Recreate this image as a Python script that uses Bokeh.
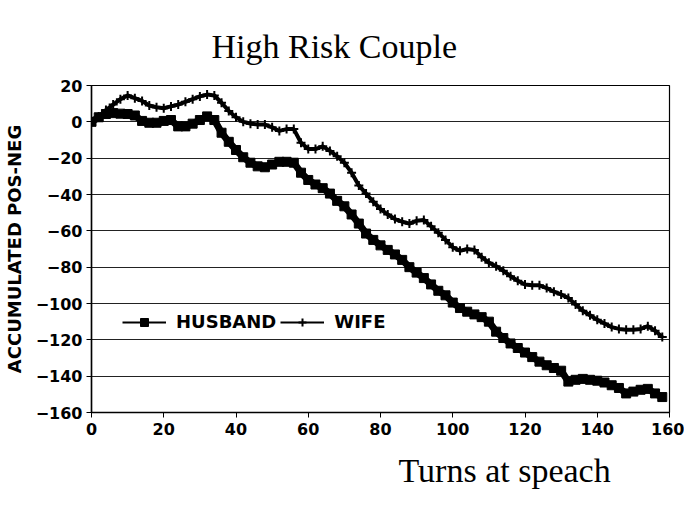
from bokeh.plotting import figure
from bokeh.models import (Range1d, FixedTicker, Legend, LegendItem, ColumnDataSource, Title)
from bokeh.embed import file_html
from bokeh.resources import INLINE

turns = list(range(0, 160, 2))

husband = [0, 2.5, 4.3, 4.8, 4.5, 4.3, 3.5, 0.5, -0.5, -0.5,
           0.5, 1, -2.5, -2.5, -1, 1, 3, 1, -6, -11,
           -15.5, -19.5, -22.5, -24.5, -25, -23.5, -22, -22, -22.5, -28,
           -32, -34.5, -36.5, -39.5, -43.5, -46.5, -51, -56, -61.5, -65,
           -68, -70.5, -73, -76, -80, -83, -86, -89.5, -93, -95.5,
           -99.5, -102.5, -104.5, -106, -107.5, -110, -115.5, -119, -122, -124.5,
           -127, -129.5, -132, -134, -135.5, -137, -143, -142, -141.5, -142,
           -142.5, -143.5, -145, -146.5, -149.5, -148.5, -147.5, -147, -149.5, -151.5]

wife = [0, 3, 6.5, 9.5, 12.5, 14.5, 13, 11.5, 9, 8,
        7.5, 8.5, 9.5, 11, 12.5, 14, 15, 14.5, 10.5, 6,
        2.5, 0, -1, -1.5, -1.5, -3, -5, -4, -4, -11.5,
        -15, -15, -13.5, -16, -19, -22.5, -28, -35, -39.5, -44,
        -48, -51, -53.5, -55, -56, -54.5, -54, -57.5, -61, -65,
        -69, -71, -70, -70.5, -74.5, -77.5, -79.5, -82, -85, -87.5,
        -89.5, -90, -90, -91.5, -93.5, -95, -97, -100.5, -104, -106.5,
        -109, -111, -113, -114, -114.5, -114.5, -114, -112.5, -115, -118.5]

x_ticks = [0, 20, 40, 60, 80, 100, 120, 140, 160]
y_ticks = [20, 0, -20, -40, -60, -80, -100, -120, -140, -160]

src = ColumnDataSource(dict(t=turns, h=husband, w=wife))

p = figure(width=684, height=505, output_backend="svg", toolbar_location=None,
           x_range=Range1d(0, 160), y_range=Range1d(-160, 20),
           min_border_left=84, min_border_right=15, min_border_top=85, min_border_bottom=93,
           background_fill_color="white", border_fill_color="white")

p.title.text = "High Risk Couple"
p.title.align = "left"
p.title.vertical_align = "top"
p.title.offset = 120
p.title.standoff = 38
p.title.text_font = "Liberation Serif"
p.title.text_font_style = "normal"
p.title.text_font_size = "34px"
p.title.text_color = "black"

bottom_title = Title(text="Turns at speach", align="left", offset=307, standoff=24,
                     text_font="Liberation Serif", text_font_style="normal",
                     text_font_size="34px", text_color="black")
p.add_layout(bottom_title, "below")

p.outline_line_color = "black"
p.outline_line_width = 1.2
p.xgrid.visible = False
p.ygrid.ticker = FixedTicker(ticks=y_ticks)
p.ygrid.grid_line_color = "#222222"
p.ygrid.grid_line_width = 1.2

for ax in (p.xaxis[0], p.yaxis[0]):
    ax.major_label_text_font = "DejaVu Sans"
    ax.major_label_text_font_style = "bold"
    ax.major_label_text_font_size = "16px"
    ax.major_label_text_color = "black"
    ax.axis_line_color = "black"
    ax.axis_line_width = 1.5
    ax.major_tick_line_color = "black"
    ax.major_tick_in = 0
    ax.major_tick_out = 5
    ax.minor_tick_line_color = None

p.xaxis.ticker = FixedTicker(ticks=x_ticks)
p.yaxis.ticker = FixedTicker(ticks=y_ticks)
p.xaxis.major_label_standoff = 5
p.yaxis.major_label_standoff = 4

p.yaxis.axis_label = "ACCUMULATED POS-NEG"
p.yaxis.axis_label_text_font = "DejaVu Sans"
p.yaxis.axis_label_text_font_style = "bold"
p.yaxis.axis_label_text_font_size = "18px"
p.yaxis.axis_label_text_color = "black"
p.yaxis.axis_label_standoff = 8

# series
h_thick = p.line("t", "h", source=src, line_color="black", line_width=7)
h_thin = p.line("t", "h", source=src, line_color="black", line_width=2)
h_mark = p.scatter("t", "h", source=src, marker="square", size=9,
                   fill_color="black", line_color="black")
w_thick = p.line("t", "w", source=src, line_color="black", line_width=4)
w_thin = p.line("t", "w", source=src, line_color="black", line_width=2)
w_mark = p.scatter("t", "w", source=src, marker="cross", size=9,
                   line_color="black", line_width=2)

legend = Legend(items=[LegendItem(label="HUSBAND", renderers=[h_thin, h_mark]),
                       LegendItem(label="WIFE", renderers=[w_thin, w_mark])],
                orientation="horizontal", location=(31, 80),
                glyph_width=44, glyph_height=20, label_height=20,
                label_standoff=10, spacing=4, padding=2, margin=0,
                border_line_color=None, background_fill_alpha=0,
                label_text_font="DejaVu Sans", label_text_font_style="bold",
                label_text_font_size="18px", label_text_color="black")
p.add_layout(legend, "center")

open("out.html", "w").write(file_html(p, INLINE))
